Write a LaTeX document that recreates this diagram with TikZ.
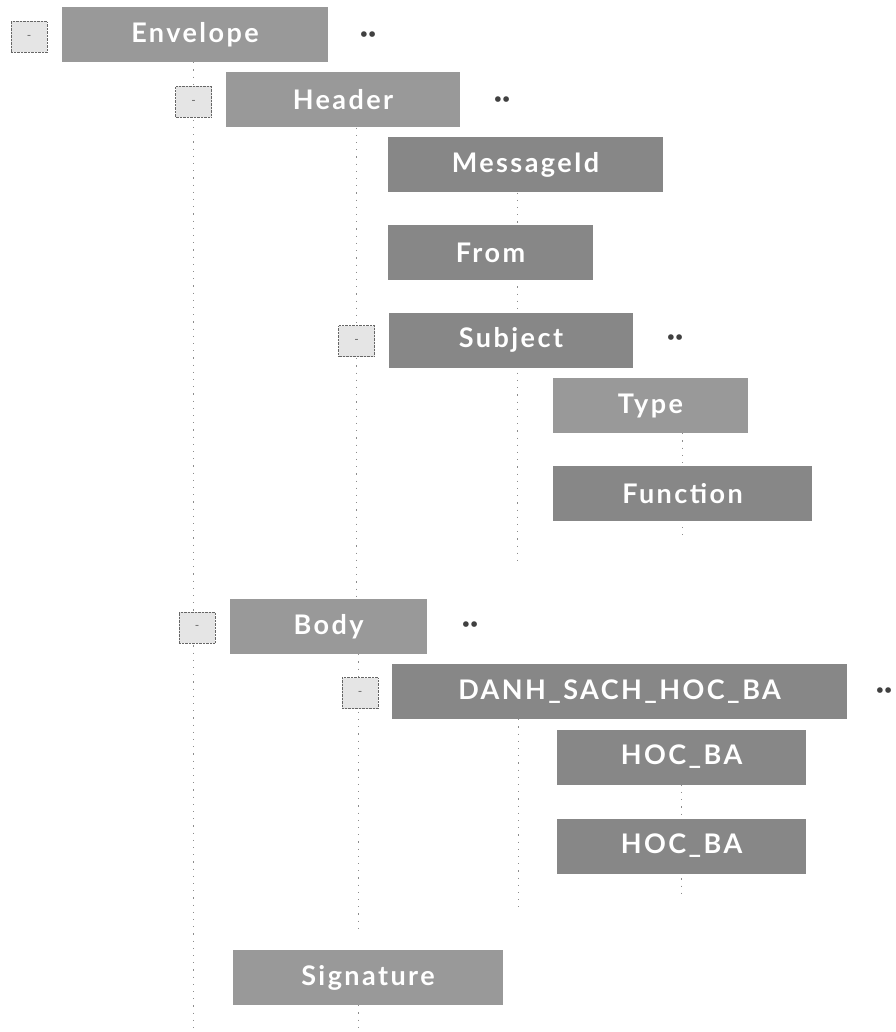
\documentclass[tikz,border=0pt]{standalone}
\usepackage{fontspec}
\setmainfont{Lato}
\newfontfamily\boxfont{Lato Bold}[LetterSpace=9]
\usetikzlibrary{backgrounds}
\definecolor{boxgray}{gray}{0.53}
\definecolor{boxlight}{gray}{0.6}
\tikzset{
  elem/.style={fill=boxgray, text=white, inner sep=0pt, minimum height=55,
    font=\boxfont\fontsize{27}{32}\selectfont},
  light/.style={fill=boxlight},
  toggle/.style={draw=black!60, densely dotted, fill=black!10, minimum width=36,
    minimum height=31, inner sep=0pt, text=black!60, font=\fontsize{12}{12}\selectfont},
  more/.style={text=black!75, font=\bfseries\fontsize{30}{30}\selectfont},
  guide/.style={dash pattern=on 1.2pt off 6pt, black!45, line width=1pt}
}
\begin{document}
\begin{tikzpicture}[x=1pt, y=-1pt]
      \useasboundingbox (0,0) rectangle (895,1032);
      \draw
        (195,34.5) node[elem, light, minimum width=266] (env){Envelope}
        (343,100) node[elem, light, minimum width=234] (hdr){Header}
        (525.5,165) node[elem, minimum width=275] (msgid){MessageId}
        (490.5,252.5) node[elem, minimum width=205] (from){From}
        (511,340) node[elem, minimum width=244] (subj){Subject}
        (650.5,405.5) node[elem, light, minimum width=195] (type){Type}
        (682.5,493.5) node[elem, minimum width=259] (func){Function}
        (328.5,626.5) node[elem, light, minimum width=197] (body){Body}
        (619.5,691.5) node[elem, minimum width=455] (dsach){DANH\_SACH\_HOC\_BA}
        (681.5,757) node[elem, minimum width=249] (hocba1){HOC\_BA}
        (681.5,846) node[elem, minimum width=249] (hocba2){HOC\_BA}
        (368,977.5) node[elem, light, minimum width=270] (sig){Signature};
      \draw
        (29,37) node[toggle] (envtog){-}
        (193.5,102) node[toggle] (hdrtog){-}
        (356.5,341) node[toggle] (subjtog){-}
        (197,627.5) node[toggle] (bodytog){-}
        (360,693) node[toggle] (dsachtog){-};
      \draw
        (368,38) node[more] (envmore){··}
        (502,103) node[more] (hdrmore){··}
        (675,341) node[more] (subjmore){··}
        (470,628) node[more] (bodymore){··}
        (884,694) node[more] (dsachmore){··};
      \coordinate (bottom) at (0,1032);
      \coordinate (subjend) at (517,560);
      \coordinate (funcend) at (682.5,535);
      \coordinate (bodyend) at (358,928);
      \coordinate (dsachend) at (518,907);
      \coordinate (hocbaend) at (681.5,895);
      \begin{pgfonlayer}{background}
      \begin{scope}[guide]
        \draw (hdrtog |- env.south) to (hdrtog |- bottom);
        \draw (subjtog |- hdr.south) to (subjtog |- body.north);
        \draw (bodyend |- body.south) to (bodyend);
        \draw (bodyend |- sig.south) to (bodyend |- bottom);
        \draw (subjend |- msgid.south) to (subjend);
        \draw (funcend |- type.south) to (funcend);
        \draw (dsachend |- dsach.south) to (dsachend);
        \draw (hocba1.south) to (hocbaend);
      \end{scope}
      \end{pgfonlayer}
    \end{tikzpicture}
\end{document}
